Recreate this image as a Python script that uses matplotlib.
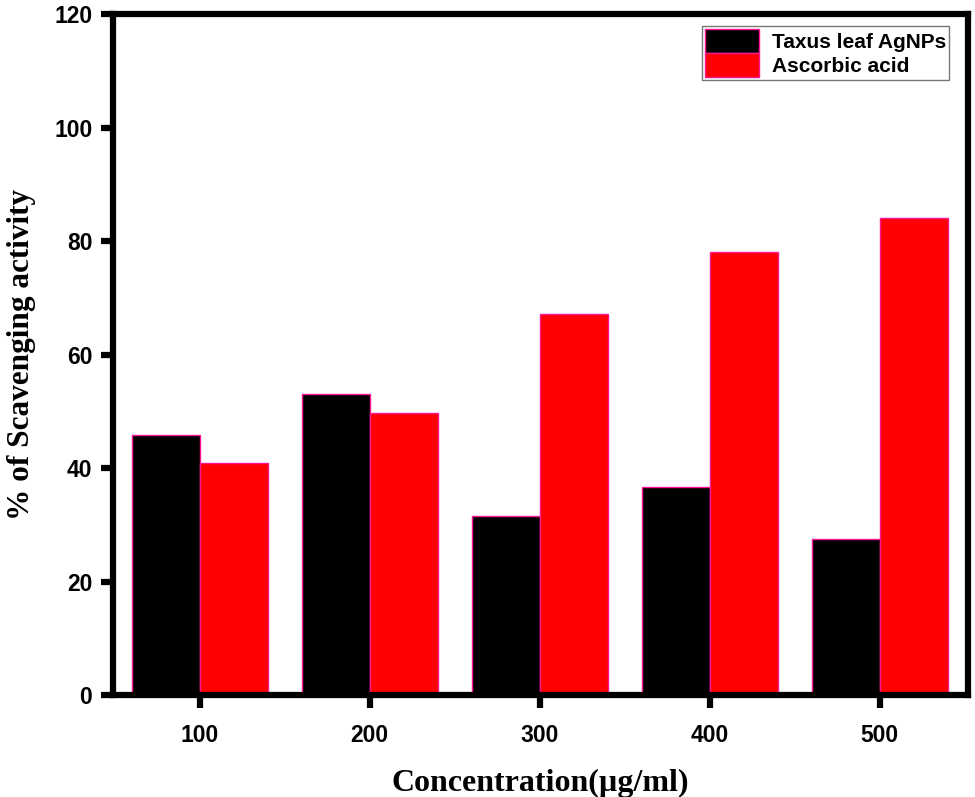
import numpy as np
import matplotlib.pyplot as plt

concentrations = ["100", "200", "300", "400", "500"]
taxus = [45.8, 53.0, 31.5, 36.7, 27.5]
ascorbic = [40.9, 49.7, 67.1, 78.1, 84.1]

fig = plt.figure(figsize=(9.75, 7.97), dpi=100)
ax = fig.add_axes([0.116, 0.128, 0.877, 0.854])

x = np.arange(len(concentrations))
w = 0.4
ax.bar(x - w / 2, taxus, w, color="black", edgecolor="#ff1493", linewidth=1.0,
       label="Taxus leaf AgNPs")
ax.bar(x + w / 2, ascorbic, w, color="#ff0000", edgecolor="#ff1493", linewidth=1.0,
       label="Ascorbic acid")

ax.set_xlim(-0.51, 4.52)
ax.set_ylim(0, 120)
ax.set_xticks(x)
ax.set_xticklabels(concentrations)
ax.set_yticks(np.arange(0, 121, 20))

for s in ax.spines.values():
    s.set_linewidth(4.5)
ax.tick_params(direction="out", width=4.5, length=9)
ax.tick_params(axis="x", pad=12)
ax.tick_params(axis="y", pad=6)
for lab in ax.get_xticklabels() + ax.get_yticklabels():
    lab.set_fontfamily("Liberation Sans")
    lab.set_fontweight("bold")
    lab.set_fontsize(16.5)

ax.set_xlabel("Concentration(µg/ml)", fontfamily="Liberation Serif",
              fontweight="bold", fontsize=23, labelpad=16)
ax.set_ylabel("% of Scavenging activity", fontfamily="Liberation Serif",
              fontweight="bold", fontsize=22.5, labelpad=13)

leg = ax.legend(loc="upper right", bbox_to_anchor=(0.985, 0.992), fancybox=False,
                handlelength=2.6, handleheight=1.4, handletextpad=0.6,
                borderpad=0.15, labelspacing=0.0, borderaxespad=0.3,
                prop={"family": "Liberation Sans", "weight": "bold", "size": 15})
leg.get_frame().set_edgecolor("#555555")
leg.get_frame().set_linewidth(1.0)

fig.savefig("out.png", dpi=100)
